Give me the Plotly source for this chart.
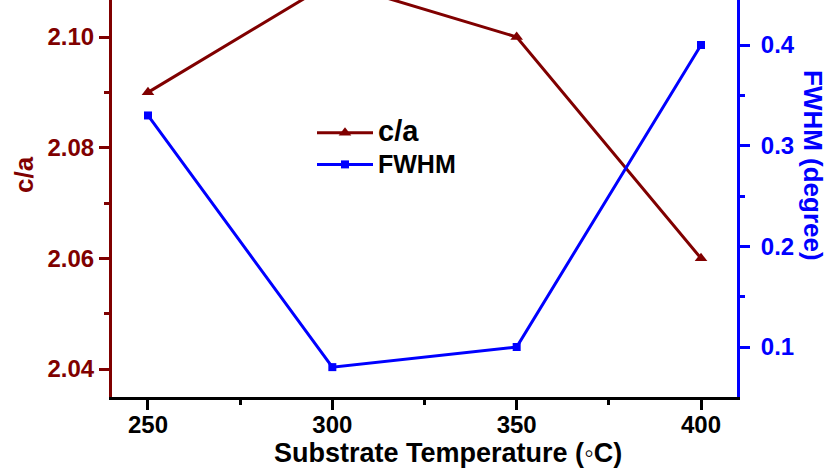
import plotly.graph_objects as go

temps = [250, 300, 350, 400]
ca_values = [2.09, 2.11, 2.10, 2.06]
fwhm_values = [0.33, 0.08, 0.10, 0.40]

x_ticks = [250, 300, 350, 400]
ca_ticks = [2.04, 2.06, 2.08, 2.10]
fwhm_ticks = [0.1, 0.2, 0.3, 0.4]

RED = "#800000"
BLUE = "#0000FF"
FONT = "Liberation Sans"

fig = go.Figure()
fig.add_trace(go.Scatter(
    x=temps, y=ca_values, mode="lines+markers",
    name="<span style='font-size:29px'>c/a</span>",
    line=dict(color=RED, width=3),
    marker=dict(symbol="triangle-up", size=11, color=RED),
    yaxis="y"))
fig.add_trace(go.Scatter(
    x=temps, y=fwhm_values, mode="lines+markers",
    name="<span style='font-size:25px'>FWHM</span>",
    line=dict(color=BLUE, width=3),
    marker=dict(symbol="square", size=8, color=BLUE),
    yaxis="y2"))

W, H = 834, 476
L, R, T, B = 112, 97, 0, 79
pw, ph = W - L - R, H - T - B

def px(xp):
    return (xp - L) / pw

def py(yp):
    return (H - B - yp) / ph

fig.update_layout(
    width=W, height=H,
    margin=dict(l=L, r=R, t=T, b=B, pad=0),
    paper_bgcolor="white", plot_bgcolor="white",
    font=dict(family=FONT, weight="bold", size=24, color="black"),
    showlegend=True,
    legend=dict(x=px(312), y=py(112), xanchor="left", yanchor="top",
                bgcolor="rgba(0,0,0,0)", itemwidth=56,
                font=dict(family=FONT, size=22, weight="bold", color="black"),
                tracegroupgap=0),
    xaxis=dict(range=[240.24, 409.76], tickvals=x_ticks, ticktext=[str(v) for v in x_ticks],
               showgrid=False, zeroline=False, showline=True, linecolor="black", linewidth=3,
               ticks="outside", ticklen=10, tickwidth=2.5, tickcolor="black",
               ticklabelstandoff=-6,
               tickfont=dict(family=FONT, size=24, weight="bold", color="black"),
               minor=dict(dtick=25, tick0=250, ticks="outside", ticklen=5, tickwidth=2.5, tickcolor="black")),
    yaxis=dict(range=[2.03494, 2.10669], tickvals=ca_ticks, ticktext=["%.2f" % v for v in ca_ticks],
               showgrid=False, zeroline=False, showline=True, linecolor=RED, linewidth=3,
               ticks="outside", ticklen=10, tickwidth=2.5, tickcolor=RED,
               tickfont=dict(family=FONT, size=24, weight="bold", color=RED),
               minor=dict(dtick=0.01, tick0=2.04, ticks="outside", ticklen=5, tickwidth=2.5, tickcolor=RED)),
    yaxis2=dict(range=[0.05033, 0.4447], overlaying="y", side="right",
                tickvals=fwhm_ticks, ticktext=["%.1f" % v for v in fwhm_ticks],
                showgrid=False, zeroline=False, showline=True, linecolor=BLUE, linewidth=3,
                ticks="outside", ticklen=10, tickwidth=2.5, tickcolor=BLUE,
                ticklabelstandoff=6,
                tickfont=dict(family=FONT, size=24, weight="bold", color=BLUE),
                minor=dict(dtick=0.05, tick0=0.1, ticks="outside", ticklen=5, tickwidth=2.5, tickcolor=BLUE)),
    annotations=[
        dict(text="Substrate Temperature (\u25e6C)", x=px(447.5), y=py(453), xref="paper", yref="paper",
             showarrow=False, xanchor="center", yanchor="middle",
             font=dict(family=FONT, size=27, weight="bold", color="black")),
        dict(text="c/a", x=px(24), y=py(175), xref="paper", yref="paper", textangle=-90,
             showarrow=False, xanchor="center", yanchor="middle",
             font=dict(family=FONT, size=26, weight="bold", color=RED)),
        dict(text="FWHM (degree)", x=px(813), y=py(165), xref="paper", yref="paper", textangle=90,
             showarrow=False, xanchor="center", yanchor="middle",
             font=dict(family=FONT, size=26, weight="bold", color=BLUE)),
    ],
)

fig.write_html("out.html")
